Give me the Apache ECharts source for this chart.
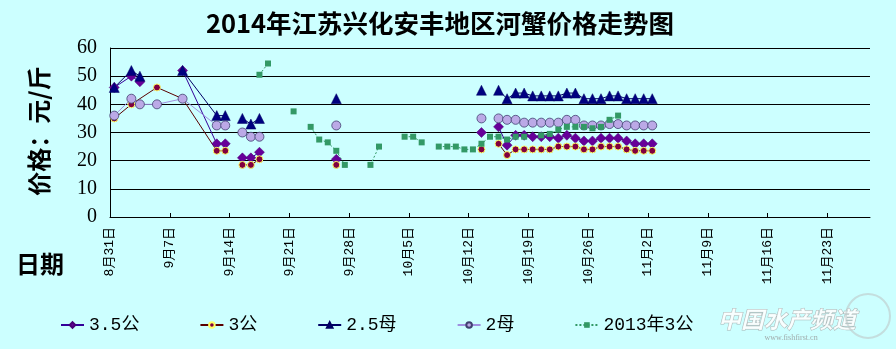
<!DOCTYPE html>
<html>
<head>
<meta charset="utf-8">
<script src="https://cdn.jsdelivr.net/npm/echarts@6/dist/echarts.min.js"></script>
<style>
html,body{margin:0;padding:0;background:#CCFFFF;}
#chart{width:896px;height:349px;}
</style>
</head>
<body>
<div id="chart"></div>
<script>
// ---- data (month-day, price in 元/斤; null = no value / line gap) ----
const seriesNames = ['3.5公', '3公', '2.5母', '2母', '2013年3公'];

const s35 = [
  ['8-31',46],['9-2',50],['9-3',48],['9-5',null],['9-8',52],['9-12',26],['9-13',26],['9-14',null],
  ['9-15',21],['9-16',21],['9-17',23],['9-18',null],['9-26',20.5],['9-27',null],
  ['10-13',30],['10-14',null],['10-15',32],['10-16',25.5],['10-17',29],['10-18',29],['10-19',28.5],
  ['10-20',28.5],['10-21',28.5],['10-22',28],['10-23',29],['10-24',28],['10-25',27],['10-26',27],
  ['10-27',28],['10-28',28],['10-29',28],['10-30',27],['10-31',26],['11-1',26],['11-2',26]
];
const s3 = [
  ['8-31',35],['9-2',40],['9-5',46],['9-8',42],['9-12',23.5],['9-13',23.5],['9-14',null],
  ['9-15',18.5],['9-16',18.5],['9-17',20.5],['9-18',null],['9-26',18.5],['9-27',null],
  ['10-13',24],['10-14',null],['10-15',26],['10-16',22],['10-17',24],['10-18',24],['10-19',24],
  ['10-20',24],['10-21',24],['10-22',25],['10-23',25],['10-24',25],['10-25',24],['10-26',24],
  ['10-27',25],['10-28',25],['10-29',25],['10-30',24],['10-31',23.5],['11-1',23.5],['11-2',23.5]
];
const s25 = [
  ['8-31',46],['9-2',52],['9-3',50],['9-5',null],['9-8',52],['9-12',36],['9-13',36],['9-14',null],
  ['9-15',35],['9-16',33],['9-17',35],['9-18',null],['9-26',42],['9-27',null],
  ['10-13',45],['10-14',null],['10-15',45],['10-16',42],['10-17',44],['10-18',44],['10-19',43],
  ['10-20',43],['10-21',43],['10-22',43],['10-23',44],['10-24',44],['10-25',42],['10-26',42],
  ['10-27',42],['10-28',43],['10-29',43],['10-30',42],['10-31',42],['11-1',42],['11-2',42]
];
const s2 = [
  ['8-31',36],['9-2',42],['9-3',40],['9-5',40],['9-8',42],['9-12',32.5],['9-13',32.5],['9-14',null],
  ['9-15',30],['9-16',28.5],['9-17',28.5],['9-18',null],['9-26',32.5],['9-27',null],
  ['10-13',35],['10-14',null],['10-15',35],['10-16',34.5],['10-17',34.5],['10-18',33.5],['10-19',33.5],
  ['10-20',33.5],['10-21',33.5],['10-22',33.5],['10-23',34.5],['10-24',34.5],['10-25',32.5],['10-26',32.5],
  ['10-27',32.5],['10-28',33],['10-29',33],['10-30',32.5],['10-31',32.5],['11-1',32.5],['11-2',32.5]
];
const s2013 = [
  ['9-17',50.5],['9-18',54.5],['9-19',null],['9-21',37.5],['9-22',null],
  ['9-23',32],['9-24',27.5],['9-25',26.5],['9-26',23.5],['9-27',18.5],['9-28',null],
  ['9-30',18.5],['10-1',25],['10-2',null],['10-4',28.5],['10-5',28.5],['10-6',26.5],['10-7',null],
  ['10-8',25],['10-9',25],['10-10',25],['10-11',24],['10-12',24],['10-13',26],['10-14',28.5],
  ['10-15',28.5],['10-16',27.5],['10-17',28.5],['10-18',28.5],['10-19',null],['10-20',29],
  ['10-21',29.5],['10-22',31],['10-23',32],['10-24',32],['10-25',32],['10-26',31.5],['10-27',32],
  ['10-28',34.5],['10-29',36]
];

const yTicks = [0, 10, 20, 30, 40, 50, 60];
const xTickDates = ['8-31','9-7','9-14','9-21','9-28','10-5','10-12','10-19','10-26','11-2','11-9','11-16','11-23'];
const xEndDate = '11-28';

// ---- helpers ----
const BASE = new Date(2014, 7, 31);
function dayOf(md) {
  const p = md.split('-').map(Number);
  return Math.round((new Date(2014, p[0] - 1, p[1]) - BASE) / 864e5);
}
function toData(arr) {
  return arr.map(function (r) { return [dayOf(r[0]) + 0.5, r[1] == null ? '-' : r[1]]; });
}
function labelOf(v) {
  const d = new Date(2014, 7, 31 + Math.round(v));
  return (d.getMonth() + 1) + '月' + d.getDate() + '日';
}
const xTicks = xTickDates.map(dayOf);

const chart = echarts.init(document.getElementById('chart'), null, {renderer: 'canvas'});

const monoFont = "'Liberation Mono','Noto Sans CJK SC',monospace";

const option = {
  backgroundColor: '#CCFFFF',
  animation: false,
  title: {
    text: '2014年江苏兴化安丰地区河蟹价格走势图',
    left: 435, top: 6, textAlign: 'center',
    textStyle: {fontFamily: "'Noto Sans CJK SC'", fontSize: 25.5, fontWeight: 'bold', color: '#000'}
  },
  grid: {left: 110, right: 26, top: 48, bottom: 132, containLabel: false},
  legend: {
    left: 55, top: 311, itemWidth: 23, itemHeight: 7, itemGap: 60,
    textStyle: {fontFamily: monoFont, fontSize: 18, color: '#000'},
    data: seriesNames
  },
  xAxis: {
    type: 'value', min: 0, max: dayOf(xEndDate), interval: 7,
    axisLine: {show: true, lineStyle: {color: '#000', width: 1}},
    axisTick: {show: true, inside: true, length: 4, lineStyle: {color: '#000'}, customValues: xTicks},
    splitLine: {show: false},
    axisLabel: {
      rotate: 90, margin: 10, fontSize: 13, fontFamily: monoFont, color: '#000',
      customValues: xTicks, formatter: labelOf
    }
  },
  yAxis: {
    type: 'value', min: 0, max: 60, interval: 10,
    axisLine: {show: true, lineStyle: {color: '#000', width: 1}},
    axisTick: {show: false},
    splitLine: {show: true, lineStyle: {color: '#000', width: 1}},
    axisLabel: {margin: 13, fontSize: 20, fontFamily: "'Liberation Serif',serif", color: '#000'}
  },
  graphic: [
    {type: 'text', x: 39, y: 131, rotation: Math.PI / 2,
     style: {text: '价格：元/斤', font: "bold 24px 'Noto Sans CJK SC'", fill: '#000', align: 'center', verticalAlign: 'middle'}},
    {type: 'text', x: 40, y: 264,
     style: {text: '日期', font: "bold 24px 'Noto Sans CJK SC'", fill: '#000', align: 'center', verticalAlign: 'middle'}},
    {type: 'text', x: 787, y: 319,
     style: {text: '中国水产频道', font: "italic bold 23px 'Noto Sans CJK SC'", fill: 'rgba(255,255,255,0.85)',
             stroke: '#a9b6b6', lineWidth: 1, align: 'center', verticalAlign: 'middle'}},
    {type: 'text', x: 791, y: 338,
     style: {text: 'www.fishfirst.cn', font: "8px 'Liberation Serif'", fill: '#a0acac', align: 'center', verticalAlign: 'middle'}},
    {type: 'circle', shape: {cx: 868, cy: 316, r: 22},
     style: {fill: 'none', stroke: 'rgba(190,200,200,0.6)', lineWidth: 2}}
  ],
  series: [
    {name: '3.5公', type: 'line', data: toData(s35), symbol: 'diamond', symbolSize: 10,
     itemStyle: {color: '#660099', borderColor: '#4a0077', borderWidth: 0.5},
     lineStyle: {color: '#330099', width: 1}, connectNulls: false},
    {name: '3公', type: 'line', data: toData(s3), symbol: 'circle', symbolSize: 7,
     itemStyle: {color: '#800040', borderColor: '#FFFF66', borderWidth: 1},
     lineStyle: {color: '#5a0000', width: 1}, connectNulls: false},
    {name: '2.5母', type: 'line', data: toData(s25), symbol: 'triangle', symbolSize: 10,
     itemStyle: {color: '#000080', borderColor: '#000060', borderWidth: 0.5},
     lineStyle: {color: '#000066', width: 1}, connectNulls: false},
    {name: '2母', type: 'line', data: toData(s2), symbol: 'circle', symbolSize: 9,
     itemStyle: {color: '#BBA9E6', borderColor: '#404070', borderWidth: 0.8},
     lineStyle: {color: '#9F8FE0', width: 1}, connectNulls: false},
    {name: '2013年3公', type: 'line', data: toData(s2013), symbol: 'rect', symbolSize: 6,
     itemStyle: {color: '#339966'},
     lineStyle: {color: '#339966', width: 1, type: [2, 2]}, connectNulls: false}
  ]
};
chart.setOption(option);
</script>
</body>
</html>
